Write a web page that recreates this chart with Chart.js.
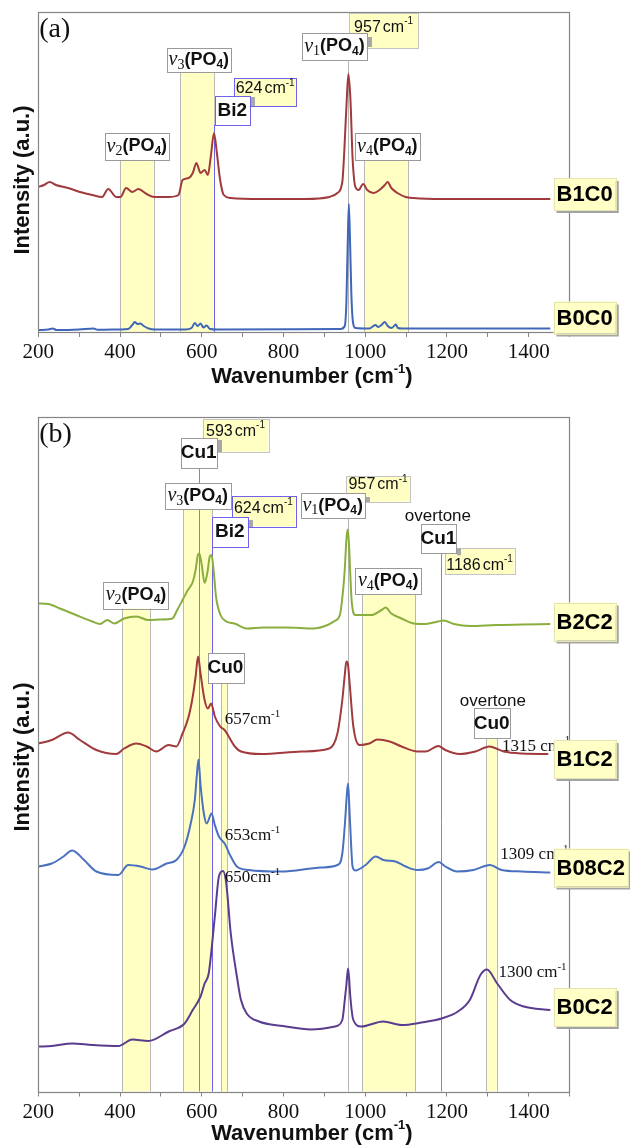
<!DOCTYPE html>
<html>
<head>
<meta charset="utf-8">
<script src="https://cdn.jsdelivr.net/npm/chart.js@4.4.0/dist/chart.umd.min.js"></script>
<style>
  body { margin: 0; background: #fff; width: 630px; height: 1148px; position: relative; overflow: hidden; }
  canvas { position: absolute; left: 0; }
  #chartA { top: 0; }
  #chartB { top: 395px; }
</style>
</head>
<body>
<canvas id="chartA" width="630" height="395"></canvas>
<canvas id="chartB" width="630" height="753"></canvas>
<script>
// ---- data (wavenumber in cm-1, intensity in stacked a.u.) ----
// panel (a)
var wnB1C0 = [200,214,228,243,273,302,332,356,371,391,401,415,430,445,465,484,519,543,553,568,578,587,597,607,615,622,630,637,645,654,671,745,853,912,932,944,949,956,959,964,969,976,984,995,1005,1020,1035,1048,1055,1064,1079,1099,1118,1187,1300,1453];
var intB1C0 = [145,147,150,147,144,140,137,135,143,135,135,144,140,143,138,135,135,137,152,154,159,169,159,162,157,175,199,179,152,137,134,133,133,135,139,150,182,242,258,232,175,145,142,148,142,139,142,147,150,144,139,135,134,133,133,133];

var wnB0C0 = [200,225,235,245,300,335,345,400,420,430,436,443,450,458,470,485,560,575,583,590,597,604,612,620,640,940,950,954,957,960,963,966,970,976,1010,1025,1032,1040,1048,1055,1065,1075,1080,1090,1453];
var intB0C0 = [2,2.5,3.5,2,2.5,3.5,2.2,2.5,3,7,10,8,8.5,6,3.5,2.5,2.5,4,9,6,8.5,4.5,6.5,3,2.5,3,6,30,85,128,90,40,10,4,3.5,7,5,7,10,6,4,7.5,4,3.5,3.5];

// panel (b)
var wnB2C2 = [200,224,253,292,332,351,369,386,410,440,469,499,528,540,553,566,578,585,590,594,600,607,614,620,624,629,635,646,660,680,712,751,810,873,908,925,938,946,950,954,957,960,963,967,976,990,1015,1040,1050,1064,1089,1118,1148,1178,1192,1217,1257,1320,1384,1453];
var intB2C2 = [488,487.5,483,476.5,470,467.5,471.5,468,473,475,471.5,472,473,481.5,491.5,501.5,509.5,521.5,535.5,538,526.5,508.5,519.5,535.5,536.5,521.5,494.5,476.5,470,468,463,464,464,463,466.5,470.5,476.5,501.5,522,552,562,550,522,490,476.5,476.5,476.5,481.5,484,478,473,468,467.5,470,471,467.5,465.5,466.5,467,467.5];

var wnB1C2 = [200,233,273,302,342,391,410,440,465,489,519,538,553,568,578,585,591,597,607,615,623,632,645,656,666,681,696,746,844,912,932,944,950,954,958,962,971,986,1010,1030,1060,1089,1128,1148,1179,1196,1231,1270,1304,1339,1384,1448];
var intB1C2 = [348,351.5,359,351.5,341.5,337.5,343,348,345,340,346.5,345,358,375,395,415,435,418,391.5,383,388,375,365,361.5,355,345,340,337.5,340,343,358,391.5,416.5,430,426.5,408,365,346.5,348,352,350,345,340,340,345.5,341.5,337.5,340,345,340,338,337.5];

var wnB08C2 = [200,233,260,283,312,342,396,420,450,479,514,538,558,573,583,588,592,597,605,612,624,632,642,656,671,686,715,794,892,932,944,951,955,958,961,965,969,976,1001,1026,1045,1074,1099,1128,1153,1180,1196,1225,1265,1305,1334,1384,1453];
var intB08C2 = [225,228,234.5,241,231.5,220,216.5,226.5,225,222,228,231.5,245,268,291.5,316.5,332,306.5,278.5,268,278,266.5,255,248,235,225,221.5,220,224,226.5,238,271.5,296.5,308,286.5,251.5,225,221,226.5,235,231.5,230,225,221.5,223,229.5,225,220,221.5,226.5,221.5,220,219];

var wnB0C2 = [200,233,283,332,396,430,469,519,558,578,597,607,617,632,642,652,660,671,686,696,710,740,799,867,926,944,950,954,958,961,963,971,990,1044,1089,1138,1187,1227,1256,1282,1298,1323,1355,1388,1453];
var intB0C2 = [45,45.5,48,46.5,45.5,52,50.5,60,68,81.5,95,108,118,175,215,220.5,208,158,115,91.5,78,70,65.5,62,65,71.5,91.5,106.5,123,111.5,98,71.5,65,70,66.5,69,73,80,91.5,116.5,122,108,91.5,85,81.5];

var xTicks = [200,400,600,800,1000,1200,1400];

var SANS = '"Liberation Sans", Arial, sans-serif';
var SERIF = '"Liberation Serif", "Times New Roman", serif';

function pts(xs, ys) {
  return xs.map(function (x, i) { return { x: x, y: ys[i] }; });
}

// rich text helpers
function nu(n) {
  return [
    { t: 'ν', f: 'italic 20px ' + SERIF },
    { t: n, f: '14px ' + SERIF, dy: 5 },
    { t: '(PO', f: 'bold 18px ' + SANS },
    { t: '4', f: 'bold 12px ' + SANS, dy: 5 },
    { t: ')', f: 'bold 18px ' + SANS }
  ];
}
function cmSans(n) {
  return [
    { t: n, f: '16px ' + SANS, gap: 2 },
    { t: 'cm', f: '16px ' + SANS },
    { t: '-1', f: '10px ' + SANS, dy: -6 }
  ];
}
function cmSerif(n, sp) {
  return [
    { t: n + (sp ? ' ' : ''), f: '17px ' + SERIF },
    { t: 'cm', f: '17px ' + SERIF },
    { t: '-1', f: '11px ' + SERIF, dy: -6 }
  ];
}
function bold(t) { return [{ t: t, f: 'bold 19px ' + SANS }]; }

function runsWidth(ctx, runs) {
  var w = 0;
  runs.forEach(function (r) { ctx.font = r.f; w += ctx.measureText(r.t).width + (r.gap || 0); });
  return w;
}
function drawRuns(ctx, runs, x, y, align) {
  var w = runsWidth(ctx, runs);
  var cx = align === 'left' ? x : x - w / 2;
  ctx.textBaseline = 'middle';
  ctx.textAlign = 'left';
  ctx.fillStyle = '#111';
  runs.forEach(function (r) {
    ctx.font = r.f;
    ctx.fillText(r.t, cx, y + (r.dy || 0));
    cx += ctx.measureText(r.t).width + (r.gap || 0);
  });
}

var YEL = '#FFFFC4';
var GRAY = '#9A9A9A';
var BLUE = '#6E62EC';

// annotation layout per canvas, kept outside Chart.js options
var panels = {};

var panelPlugin = {
  id: 'panel',
  beforeDatasetsDraw: function (chart) {
    var o = panels[chart.canvas.id];
    var ctx = chart.ctx, a = chart.chartArea, xs = chart.scales.x, ys = chart.scales.y;
    ctx.save();
    o.bands.forEach(function (b) {
      var x1 = xs.getPixelForValue(b.from), x2 = xs.getPixelForValue(b.to), yt = ys.getPixelForValue(b.top);
      ctx.fillStyle = YEL;
      ctx.fillRect(x1, yt, x2 - x1, a.bottom - yt);
      ctx.strokeStyle = '#B8B8B8';
      ctx.lineWidth = 1;
      ctx.beginPath();
      ctx.moveTo(Math.round(x1) + 0.5, yt); ctx.lineTo(Math.round(x1) + 0.5, a.bottom);
      ctx.moveTo(Math.round(x2) + 0.5, yt); ctx.lineTo(Math.round(x2) + 0.5, a.bottom);
      ctx.stroke();
    });
    o.vlines.forEach(function (l) {
      var x = Math.round(xs.getPixelForValue(l.x)) + 0.5;
      ctx.strokeStyle = l.color;
      ctx.lineWidth = 1;
      ctx.beginPath();
      ctx.moveTo(x, ys.getPixelForValue(l.top));
      ctx.lineTo(x, a.bottom);
      ctx.stroke();
    });
    ctx.restore();
  },
  afterDatasetsDraw: function (chart) {
    var o = panels[chart.canvas.id];
    var ctx = chart.ctx, a = chart.chartArea, xs = chart.scales.x, ys = chart.scales.y;
    ctx.save();
    // plot frame
    ctx.strokeStyle = '#858585';
    ctx.lineWidth = 1.2;
    ctx.strokeRect(Math.round(a.left) + 0.5, Math.round(a.top) + 0.5, Math.round(a.right - a.left), Math.round(a.bottom - a.top));

    // annotation boxes
    o.boxes.forEach(function (b) {
      var x1 = xs.getPixelForValue(b.x[0]), x2 = xs.getPixelForValue(b.x[1]);
      var y1 = ys.getPixelForValue(b.y[1]), y2 = ys.getPixelForValue(b.y[0]);
      ctx.fillStyle = b.fill || '#ffffff';
      ctx.fillRect(x1, y1, x2 - x1, y2 - y1);
      ctx.strokeStyle = b.stroke || GRAY;
      ctx.lineWidth = 1;
      ctx.strokeRect(Math.round(x1) + 0.5, Math.round(y1) + 0.5, Math.round(x2 - x1), Math.round(y2 - y1));
      if (b.tab) {
        ctx.fillStyle = '#A8A8A8';
        ctx.fillRect(Math.round(x2) + 1, y1 + b.tab[0], 4, b.tab[1]);
      }
      drawRuns(ctx, b.runs, (x1 + x2) / 2, (y1 + y2) / 2 + (b.dy || 0), 'center');
    });

    // free texts
    o.texts.forEach(function (t) {
      drawRuns(ctx, t.runs, xs.getPixelForValue(t.wn), ys.getPixelForValue(t.v), t.align || 'left');
    });

    // series labels at right
    o.labels.forEach(function (l) {
      ctx.font = 'bold 22px ' + SANS;
      var w = ctx.measureText(l.t).width + 6;
      var h = o.labelH;
      var x = a.right - 16;
      var y = ys.getPixelForValue(l.v) - h / 2;
      ctx.fillStyle = '#A4A4A4';
      ctx.fillRect(x + 3, y + 3, w, h);
      ctx.fillStyle = '#FFFFC6';
      ctx.fillRect(x, y, w, h);
      ctx.strokeStyle = '#E4E4B0';
      ctx.lineWidth = 1;
      ctx.strokeRect(Math.round(x) + 0.5, Math.round(y) + 0.5, Math.round(w), Math.round(h));
      ctx.fillStyle = '#000';
      ctx.textAlign = 'left';
      ctx.textBaseline = 'middle';
      ctx.fillText(l.t, x + 3, y + h / 2 + 1);
    });

    // panel letter
    ctx.fillStyle = '#111';
    ctx.font = '28px ' + SERIF;
    ctx.textAlign = 'left';
    ctx.textBaseline = 'middle';
    ctx.fillText(o.letter, a.left + 1, a.top + 18);

    // axis titles
    drawRuns(ctx, [
      { t: 'Wavenumber (cm', f: 'bold 22px ' + SANS },
      { t: '-1', f: 'bold 13px ' + SANS, dy: -8 },
      { t: ')', f: 'bold 22px ' + SANS }
    ], (a.left + a.right) / 2 + 8, a.bottom + o.xtY, 'center');

    ctx.save();
    ctx.translate(23, (a.top + a.bottom) / 2 + o.ytOff);
    ctx.rotate(-Math.PI / 2);
    drawRuns(ctx, [{ t: 'Intensity (a.u.)', f: 'bold 22px ' + SANS }], 0, 0, 'center');
    ctx.restore();

    ctx.restore();
  }
};

function makeChart(id, datasets, ymax, padTop, xAxisH) {
  return new Chart(document.getElementById(id), {
    type: 'line',
    data: { datasets: datasets },
    options: {
      responsive: false,
      animation: false,
      devicePixelRatio: 1,
      layout: { padding: { left: 0, right: 60.5, top: padTop, bottom: 0 } },
      elements: {
        point: { radius: 0 },
        line: { borderWidth: 2, cubicInterpolationMode: 'monotone' }
      },
      plugins: { legend: { display: false }, tooltip: { enabled: false } },
      scales: {
        x: {
          type: 'linear', min: 200, max: 1500,
          afterFit: function (s) { s.height = xAxisH; },
          border: { display: false },
          grid: { drawOnChartArea: false, tickLength: 5, color: '#858585' },
          ticks: {
            stepSize: 100, autoSkip: false, maxRotation: 0, padding: 3, color: '#111',
            font: { family: SERIF, size: 21 },
            callback: function (v) { return xTicks.indexOf(v) >= 0 ? String(v) : ''; }
          }
        },
        y: {
          min: 0, max: ymax,
          afterFit: function (s) { s.width = 38.3; },
          border: { display: false },
          grid: { display: false },
          ticks: { display: false }
        }
      }
    },
    plugins: [panelPlugin]
  });
}

function series(xs, ys, color) {
  return { data: pts(xs, ys), borderColor: color, borderWidth: 2, fill: false };
}

// ---- panel (a) ----
panels.chartA = {
  letter: '(a)', labelH: 32, ytOff: 8, xtY: 45,
  bands: [
    { from: 399, to: 483, top: 172 },
    { from: 548, to: 630, top: 260 },
    { from: 997, to: 1104, top: 172 }
  ],
  vlines: [
    { x: 631, top: 207, color: BLUE },
    { x: 957, top: 272, color: '#B4B4B4' }
  ],
  boxes: [
    { x: [961, 1129], y: [284, 319], fill: YEL, stroke: '#C4C4C4', runs: cmSans('957'), dy: -3 },
    { x: [845.8, 1004], y: [272, 299], runs: nu('1'), tab: [4, 10] },
    { x: [679.3, 831], y: [226, 254], fill: YEL, stroke: BLUE, runs: cmSans('624'), dy: -3 },
    { x: [632, 717.5], y: [207, 236], stroke: BLUE, runs: bold('Bi2'), tab: [1, 9] },
    { x: [514, 671.5], y: [260, 284], runs: nu('3') },
    { x: [363.4, 518.9], y: [172, 199.3], runs: nu('2') },
    { x: [974.4, 1133.9], y: [172, 199], runs: nu('4') }
  ],
  texts: [],
  labels: [{ t: 'B1C0', v: 138 }, { t: 'B0C0', v: 14.5 }]
};
makeChart('chartA', [
  series(wnB1C0, intB1C0, '#A03A3C'),
  series(wnB0C0, intB0C0, '#3F66B8')
], 320, 12, 63);

// ---- panel (b) ----
panels.chartB = {
  letter: '(b)', labelH: 38, ytOff: 3, xtY: 42,
  bands: [
    { from: 404, to: 473, top: 483.2 },
    { from: 555, to: 625, top: 582.5 },
    { from: 648, to: 662, top: 408.5 },
    { from: 991, to: 1122, top: 497.5 },
    { from: 1296, to: 1322, top: 353.2 }
  ],
  vlines: [
    { x: 593, top: 623.5, color: '#8C8C8C' },
    { x: 625, top: 544.8, color: BLUE },
    { x: 957, top: 573.2, color: '#B4B4B4' },
    { x: 1186, top: 538.2, color: '#8C8C8C' }
  ],
  boxes: [
    { x: [602.4, 762.8], y: [639.8, 672.5], fill: YEL, stroke: '#C4C4C4', runs: cmSans('593'), dy: -4 },
    { x: [548.3, 637], y: [623.5, 653.5], runs: bold('Cu1'), tab: [2, 12] },
    { x: [673, 828.7], y: [565, 595.5], fill: YEL, stroke: BLUE, runs: cmSans('624'), dy: -3 },
    { x: [624.7, 712.9], y: [544.8, 574.5], stroke: BLUE, runs: bold('Bi2'), tab: [3, 7] },
    { x: [509, 671.5], y: [582.5, 608.5], runs: nu('3') },
    { x: [953.6, 1109.4], y: [589.8, 615.5], fill: YEL, stroke: '#C4C4C4', runs: cmSans('957'), dy: -4 },
    { x: [841.7, 999.2], y: [573.2, 598.5], runs: nu('1'), tab: [4, 5] },
    { x: [1194.8, 1365], y: [517.5, 543.2], fill: YEL, stroke: '#C4C4C4', runs: cmSans('1186'), dy: 4 },
    { x: [1135.8, 1222.5], y: [538.2, 567.2], runs: bold('Cu1'), tab: [24, 7] },
    { x: [359.4, 518.9], y: [483.2, 509.8], runs: nu('2') },
    { x: [976, 1136.8], y: [497.5, 523.2], runs: nu('4') },
    { x: [614.4, 701.4], y: [408.5, 438.5], runs: bold('Cu0') },
    { x: [1265.4, 1353.6], y: [353.2, 383.2], runs: bold('Cu0') }
  ],
  texts: [
    { runs: [{ t: 'overtone', f: '17px ' + SANS }], wn: 1178, v: 574.8, align: 'center' },
    { runs: [{ t: 'overtone', f: '17px ' + SANS }], wn: 1312.4, v: 390.5, align: 'center' },
    { runs: cmSerif('657'), wn: 656.5, v: 371.5 },
    { runs: cmSerif('653'), wn: 656.5, v: 255.5 },
    { runs: cmSerif('650'), wn: 656.5, v: 213.5 },
    { runs: cmSerif('1315', true), wn: 1335, v: 345 },
    { runs: cmSerif('1309', true), wn: 1330.8, v: 236.5 },
    { runs: cmSerif('1300', true), wn: 1326, v: 118.5 }
  ],
  labels: [
    { t: 'B2C2', v: 470 }, { t: 'B1C2', v: 332.5 },
    { t: 'B08C2', v: 224 }, { t: 'B0C2', v: 84.5 }
  ]
};
makeChart('chartB', [
  series(wnB2C2, intB2C2, '#8AAE3E'),
  series(wnB1C2, intB1C2, '#A03A3C'),
  series(wnB08C2, intB08C2, '#4A70C0'),
  series(wnB0C2, intB0C2, '#5A3C8E')
], 675, 21.5, 56.5);
</script>
</body>
</html>
